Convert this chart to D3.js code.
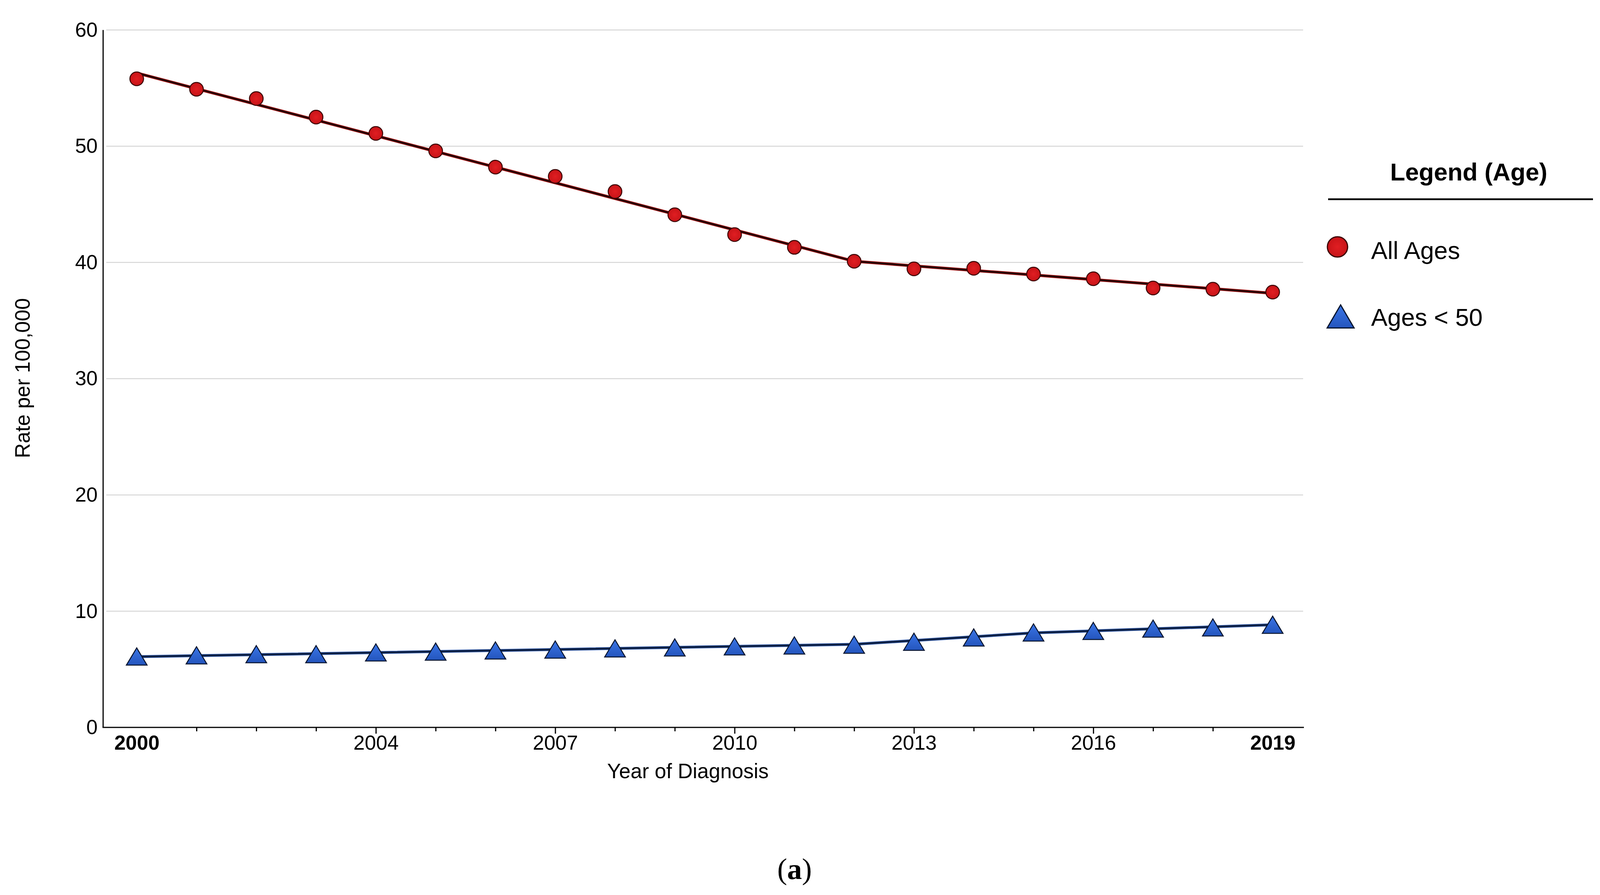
<!DOCTYPE html>
<html>
<head>
<meta charset="utf-8">
<script src="https://cdn.jsdelivr.net/npm/d3@7"></script>
<style>
  html, body { margin: 0; padding: 0; background: #fff; }
  svg { display: block; }
  text { font-family: "Liberation Sans", Arial, sans-serif; fill: #000; }
</style>
</head>
<body>
<script>
// data
const years = [2000, 2001, 2002, 2003, 2004, 2005, 2006, 2007, 2008, 2009,
  2010, 2011, 2012, 2013, 2014, 2015, 2016, 2017, 2018, 2019]
const allAges = [55.8, 54.9, 54.1, 52.5, 51.1, 49.6, 48.2, 47.4, 46.1, 44.1,
  42.4, 41.3, 40.1, 39.45, 39.5, 39.0, 38.6, 37.8, 37.7, 37.45]
const under50 = [6.1, 6.2, 6.3, 6.3, 6.45, 6.52, 6.62, 6.7, 6.8, 6.88,
  6.97, 7.05, 7.12, 7.37, 7.74, 8.17, 8.3, 8.5, 8.6, 8.83]

// joinpoint fitted segments
const allAgesFitYears = [2000, 2012, 2019]
const allAgesFit = [56.3, 40.1, 37.35]
const under50FitYears = [2000, 2012, 2015, 2019]
const under50Fit = [6.08, 7.15, 8.13, 8.83]

const labelYears = [2000, 2004, 2007, 2010, 2013, 2016, 2019]
const boldYears = [2000, 2019]
const yTicks = [0, 10, 20, 30, 40, 50, 60]
const legendItems = ['All Ages', 'Ages < 50']

const W = 4108, H = 2291
const plot = { left: 264, right: 3338, top: 76.7, bottom: 1862 }

const svg = d3.select('body').append('svg')
  .attr('width', W)
  .attr('height', H)

svg.append('rect').attr('width', W).attr('height', H).attr('fill', '#fff')

const x = d3.scaleLinear().domain([2000, 2019]).range([350, 3258])
const y = d3.scaleLinear().domain([0, 60]).range([plot.bottom, plot.top])

// gridlines
svg.append('g')
  .selectAll('line')
  .data(yTicks.filter(d => d > 0))
  .join('line')
  .attr('x1', plot.left + 8)
  .attr('x2', plot.right - 2)
  .attr('y1', d => y(d))
  .attr('y2', d => y(d))
  .attr('stroke', '#d6d6d6')
  .attr('stroke-width', 2.5)

// y axis
const yAxis = svg.append('g')
  .attr('transform', `translate(${plot.left},0)`)
  .call(d3.axisLeft(y).tickValues(yTicks).tickSize(0).tickPadding(14))
yAxis.select('.domain').remove()
yAxis.selectAll('text')
  .attr('font-size', 52)
  .attr('font-family', '"Liberation Sans", Arial, sans-serif')
  .attr('fill', '#000')

svg.append('line')
  .attr('x1', plot.left).attr('x2', plot.left)
  .attr('y1', plot.top).attr('y2', plot.bottom)
  .attr('stroke', '#000').attr('stroke-width', 3)

// x axis: minor ticks every year, major ticks + labels
const minorYears = years.filter(d => !labelYears.includes(d))
const xMinor = svg.append('g')
  .attr('transform', `translate(0,${plot.bottom})`)
  .call(d3.axisBottom(x).tickValues(minorYears).tickSize(10).tickFormat(''))
xMinor.select('.domain').remove()
xMinor.selectAll('line').attr('stroke', '#000').attr('stroke-width', 3)

const xMajor = svg.append('g')
  .attr('transform', `translate(0,${plot.bottom})`)
  .call(d3.axisBottom(x).tickValues(labelYears).tickSize(16).tickPadding(4).tickFormat(d3.format('d')))
xMajor.select('.domain').remove()
xMajor.selectAll('.tick line')
  .attr('stroke', '#000')
  .attr('stroke-width', 3)
  .attr('opacity', d => boldYears.includes(d) ? 0 : 1)
xMajor.selectAll('text')
  .attr('font-size', 52)
  .attr('font-family', '"Liberation Sans", Arial, sans-serif')
  .attr('fill', '#000')
  .attr('font-weight', d => boldYears.includes(d) ? 'bold' : 'normal')

svg.append('line')
  .attr('x1', plot.left - 1.5).attr('x2', plot.right)
  .attr('y1', plot.bottom).attr('y2', plot.bottom)
  .attr('stroke', '#000').attr('stroke-width', 3)

// axis titles
svg.append('text')
  .attr('transform', `translate(76,968) rotate(-90)`)
  .attr('text-anchor', 'middle')
  .attr('font-size', 53)
  .text('Rate per 100,000')

svg.append('text')
  .attr('x', 1761)
  .attr('y', 1992)
  .attr('text-anchor', 'middle')
  .attr('font-size', 53)
  .text('Year of Diagnosis')

// fitted lines
const line = d3.line().x(d => x(d[0])).y(d => y(d[1]))

const redFit = d3.zip(allAgesFitYears, allAgesFit)
const blueFit = d3.zip(under50FitYears, under50Fit)

svg.append('path').datum(redFit)
  .attr('d', line).attr('fill', 'none')
  .attr('stroke', '#a81212').attr('stroke-width', 7.5)
svg.append('path').datum(redFit)
  .attr('d', line).attr('fill', 'none')
  .attr('stroke', '#240505').attr('stroke-width', 4.5)

svg.append('path').datum(blueFit)
  .attr('d', line).attr('fill', 'none')
  .attr('stroke', '#3a62b0').attr('stroke-width', 7.5)
svg.append('path').datum(blueFit)
  .attr('d', line).attr('fill', 'none')
  .attr('stroke', '#0e1f40').attr('stroke-width', 4.5)

// markers
const defs = svg.append('defs')
const blueGrad = defs.append('linearGradient')
  .attr('id', 'blueGrad').attr('x1', 0).attr('y1', 0).attr('x2', 0).attr('y2', 1)
blueGrad.append('stop').attr('offset', '0%').attr('stop-color', '#3a75e6')
blueGrad.append('stop').attr('offset', '100%').attr('stop-color', '#2455bd')

const redGrad = defs.append('radialGradient').attr('id', 'redGrad')
redGrad.append('stop').attr('offset', '0%').attr('stop-color', '#e01e22')
redGrad.append('stop').attr('offset', '100%').attr('stop-color', '#c81418')

const tri = (cx, cy, w, h) =>
  `M${cx},${cy - h / 2}L${cx + w / 2},${cy + h / 2}L${cx - w / 2},${cy + h / 2}Z`

svg.append('g')
  .selectAll('circle')
  .data(d3.zip(years, allAges))
  .join('circle')
  .attr('cx', d => x(d[0]))
  .attr('cy', d => y(d[1]))
  .attr('r', 17.5)
  .attr('fill', 'url(#redGrad)')
  .attr('stroke', '#3a0505')
  .attr('stroke-width', 2.5)

svg.append('g')
  .selectAll('path')
  .data(d3.zip(years, under50))
  .join('path')
  .attr('d', d => tri(x(d[0]), y(d[1]), 53, 44))
  .attr('fill', 'url(#blueGrad)')
  .attr('stroke', '#08142e')
  .attr('stroke-width', 2.5)
  .attr('stroke-linejoin', 'miter')

// legend
const legend = svg.append('g').attr('class', 'legendGroup')

legend.append('text')
  .attr('x', 3760)
  .attr('y', 462)
  .attr('text-anchor', 'middle')
  .attr('font-size', 63)
  .attr('font-weight', 'bold')
  .text('Legend (Age)')

legend.append('line')
  .attr('x1', 3400).attr('x2', 4078)
  .attr('y1', 510).attr('y2', 510)
  .attr('stroke', '#000').attr('stroke-width', 4.5)

legend.append('circle')
  .attr('cx', 3424).attr('cy', 632).attr('r', 26)
  .attr('fill', 'url(#redGrad)')
  .attr('stroke', '#3a0505').attr('stroke-width', 3)

legend.append('path')
  .attr('d', tri(3432, 810, 69, 59))
  .attr('fill', 'url(#blueGrad)')
  .attr('stroke', '#08142e').attr('stroke-width', 3)

legend.selectAll('.legend-label')
  .data(legendItems)
  .join('text')
  .attr('class', 'legend-label')
  .attr('x', 3510)
  .attr('y', (d, i) => i === 0 ? 663 : 834)
  .attr('font-size', 63)
  .text(d => d)

// panel caption
const cap = svg.append('text')
  .attr('x', 2034)
  .attr('y', 2250)
  .attr('text-anchor', 'middle')
  .attr('font-size', 76)
  .style('font-family', '"Liberation Serif", "Times New Roman", serif')
cap.append('tspan').text('(')
cap.append('tspan').attr('font-weight', 'bold').text('a')
cap.append('tspan').text(')')
</script>
</body>
</html>
